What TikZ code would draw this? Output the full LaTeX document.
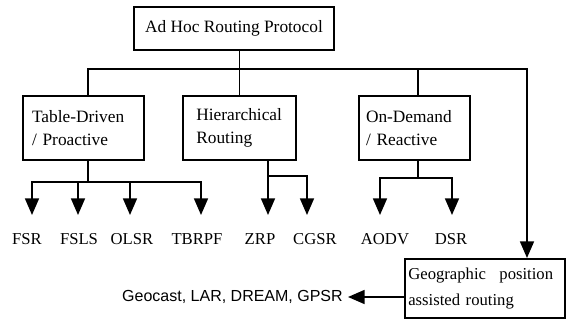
\documentclass[tikz,border=0pt]{standalone}
\usepackage{fontspec}
\setmainfont{Liberation Serif}
\newfontfamily\labsans{Liberation Sans}
\usetikzlibrary{arrows.meta}
\begin{document}
\begin{tikzpicture}[x=0.75pt,y=-0.75pt,
  box/.style={draw, line width=1.5pt, inner ysep=0pt, font=\fontsize{13}{17}\selectfont},
  conn/.style={line width=1.3pt},
  arr/.style={conn, -{Triangle[width=10.5pt,length=12.5pt]}},
  lab/.style={inner sep=0pt, font=\fontsize{12.5}{15}\selectfont},
]
\useasboundingbox (0,0) rectangle (568,323);

% boxes
\node[box, minimum width=150pt, minimum height=32.25pt] (top) at (234,28.5) {Ad Hoc Routing Protocol};
\node[box, minimum width=90.75pt, minimum height=48pt, inner xsep=6.75pt, text width=77.25pt, align=left] (td) at (83.5,128) {Table-Driven\\/ Proactive};
\node[box, minimum width=84.75pt, minimum height=48pt, inner xsep=10pt, text width=64.75pt, align=left] (hr) at (239.5,128) {Hierarchical\\Routing};
\node[box, minimum width=83.25pt, minimum height=48pt, inner xsep=5.25pt, text width=72.75pt, align=left] (od) at (414.5,128) {On-Demand\\/ Reactive};
\node[box, minimum width=120pt, minimum height=44.25pt, inner xsep=2.5pt, text width=115pt, align=left, font=\fontsize{12.5}{19.5}\selectfont] (geo) at (485,288.5) {Geographic\hspace{0.8em}position\\assisted routing};

% labels
\node[lab] (lFSR) at (27,239) {FSR};
\node[lab] (lFSLS) at (79,239) {FSLS};
\node[lab] (lOLSR) at (132,239) {OLSR};
\node[lab] (lTBRPF) at (197,239) {TBRPF};
\node[lab] (lZRP) at (260,239) {ZRP};
\node[lab] (lCGSR) at (315,239) {CGSR};
\node[lab] (lAODV) at (385,239) {AODV};
\node[lab] (lDSR) at (451,239) {DSR};
\node[inner xsep=3.75pt, inner ysep=0pt, anchor=east, font=\labsans\fontsize{12}{14}\selectfont] (glab) at (348,297) {Geocast, LAR, DREAM, GPSR};

% coordinates
\coordinate (busL) at (88,69);
\coordinate (busR) at (527,69);
\coordinate (odx) at (418,69);
\coordinate (tdj) at (88,182);
\coordinate (hrj) at (268,176);
\coordinate (odj) at (418,178);
\coordinate (a1) at (32,215);
\coordinate (a2) at (78,215);
\coordinate (a3) at (130,215);
\coordinate (a4) at (201,215);
\coordinate (a5) at (268,215);
\coordinate (a6) at (307,215);
\coordinate (a7) at (380,215);
\coordinate (a8) at (452,215);

% top level connectors
\draw[conn] (top.south -| hr.north) -- (hr.north);
\draw[arr] (td.north -| busL) -- (busL) -- (busR) -- (busR |- geo.north);
\draw[conn] (odx) -- (od.north -| odx);

% table-driven
\draw[conn] (td.south -| tdj) -- (tdj);
\draw[arr] (tdj) -| (a1);
\draw[arr] (tdj) -| (a2);
\draw[arr] (tdj) -| (a3);
\draw[arr] (tdj) -| (a4);

% hierarchical
\draw[arr] (hr.south -| a5) -- (a5);
\draw[arr] (hrj) -| (a6);

% on-demand
\draw[conn] (od.south -| odj) -- (odj);
\draw[arr] (odj) -| (a7);
\draw[arr] (odj) -| (a8);

% geographic
\draw[arr] (geo.west |- glab.east) -- (glab.east);
\end{tikzpicture}
\end{document}
